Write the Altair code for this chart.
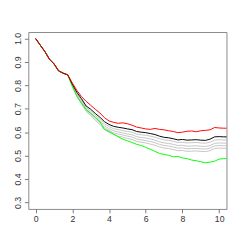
import altair as alt
import pandas as pd

# shared start of all curves, x = 0 .. 1.75 step 0.25
x_common = [0.0, 0.25, 0.5, 0.75, 1.0, 1.25, 1.5, 1.75]
y_common = [1.000, 0.972, 0.945, 0.912, 0.892, 0.862, 0.852, 0.845]

# x = 2.0 .. 10.5 step 0.25
x_tail = [2.0, 2.25, 2.5, 2.75, 3.0, 3.25, 3.5, 3.75, 4.0, 4.25, 4.5, 4.75,
          5.0, 5.25, 5.5, 5.75, 6.0, 6.25, 6.5, 6.75, 7.0, 7.25, 7.5, 7.75,
          8.0, 8.25, 8.5, 8.75, 9.0, 9.25, 9.5, 9.75, 10.0, 10.25, 10.5]

red = [0.810, 0.778, 0.752, 0.732, 0.715, 0.698, 0.682, 0.662, 0.648, 0.642, 0.638, 0.640,
       0.636, 0.630, 0.622, 0.618, 0.614, 0.612, 0.616, 0.612, 0.610, 0.606, 0.603, 0.598,
       0.600, 0.604, 0.605, 0.602, 0.606, 0.608, 0.610, 0.620, 0.618, 0.617, 0.617]
black = [0.805, 0.770, 0.743, 0.712, 0.698, 0.680, 0.664, 0.645, 0.633, 0.625, 0.621, 0.618,
         0.614, 0.611, 0.603, 0.600, 0.598, 0.594, 0.590, 0.583, 0.578, 0.576, 0.572, 0.567,
         0.569, 0.566, 0.567, 0.568, 0.566, 0.565, 0.570, 0.580, 0.581, 0.580, 0.580]
gray1 = [0.803, 0.765, 0.737, 0.705, 0.690, 0.672, 0.655, 0.636, 0.624, 0.615, 0.611, 0.607,
         0.603, 0.600, 0.592, 0.589, 0.587, 0.583, 0.579, 0.572, 0.567, 0.565, 0.561, 0.556,
         0.557, 0.554, 0.555, 0.556, 0.554, 0.553, 0.557, 0.566, 0.568, 0.567, 0.567]
gray2 = [0.801, 0.761, 0.731, 0.699, 0.683, 0.664, 0.647, 0.628, 0.615, 0.606, 0.601, 0.597,
         0.592, 0.589, 0.581, 0.577, 0.575, 0.571, 0.566, 0.559, 0.554, 0.552, 0.548, 0.543,
         0.544, 0.540, 0.541, 0.542, 0.540, 0.539, 0.543, 0.552, 0.554, 0.553, 0.553]
gray3 = [0.800, 0.758, 0.727, 0.694, 0.677, 0.657, 0.640, 0.620, 0.607, 0.597, 0.592, 0.588,
         0.583, 0.579, 0.571, 0.567, 0.564, 0.560, 0.555, 0.548, 0.543, 0.541, 0.537, 0.532,
         0.533, 0.529, 0.530, 0.531, 0.529, 0.528, 0.532, 0.541, 0.543, 0.542, 0.542]
gray4 = [0.798, 0.755, 0.722, 0.689, 0.671, 0.651, 0.633, 0.612, 0.599, 0.589, 0.583, 0.579,
         0.573, 0.569, 0.561, 0.557, 0.554, 0.549, 0.544, 0.537, 0.532, 0.530, 0.526, 0.521,
         0.522, 0.518, 0.519, 0.520, 0.518, 0.517, 0.521, 0.530, 0.532, 0.531, 0.531]
green = [0.795, 0.752, 0.723, 0.697, 0.680, 0.664, 0.645, 0.612, 0.603, 0.592, 0.580, 0.570,
         0.563, 0.556, 0.548, 0.543, 0.535, 0.527, 0.518, 0.509, 0.505, 0.501, 0.495, 0.496,
         0.490, 0.487, 0.481, 0.478, 0.474, 0.469, 0.472, 0.476, 0.485, 0.487, 0.487]

x_ticks = [0, 2, 4, 6, 8, 10]
y_ticks = [0.3, 0.4, 0.5, 0.6, 0.7, 0.8, 0.9, 1.0]

series = {"gray1": gray1, "gray2": gray2, "gray3": gray3, "gray4": gray4,
          "green": green, "black": black, "red": red}
colors = {"gray1": "#C4C4C4", "gray2": "#C4C4C4", "gray3": "#C4C4C4", "gray4": "#C4C4C4",
          "green": "#00FF00", "black": "#000000", "red": "#FF0000"}

rows = []
for name, vals in series.items():
    for xv, yv in zip(x_common + x_tail, y_common + vals):
        rows.append({"series": name, "x": xv, "y": yv})
df = pd.DataFrame(rows)

xs = alt.Scale(domain=[-0.4, 10.4], nice=False, zero=False)
ys = alt.Scale(domain=[0.272, 1.028], nice=False, zero=False)

xax = alt.Axis(values=x_ticks, title=None, grid=False, domain=False, tickSize=4,
               tickColor="#777", labelFontSize=9, labelColor="#333",
               labelFont="Liberation Sans", labelPadding=2, format="d")
yax = alt.Axis(values=y_ticks, title=None, grid=False, domain=False, tickSize=4,
               tickColor="#777", labelFontSize=9, labelColor="#333",
               labelFont="Liberation Sans", labelPadding=2, format=".1f",
               labelAngle=270, labelAlign="center", labelBaseline="bottom")

layers = []
for name in series:
    layers.append(
        alt.Chart(df).transform_filter(alt.datum.series == name)
        .mark_line(strokeWidth=1, clip=True, color=colors[name])
        .encode(x=alt.X("x:Q", scale=xs, axis=xax),
                y=alt.Y("y:Q", scale=ys, axis=yax))
    )

chart = alt.layer(*layers).properties(
    width=205, height=183,
    autosize=alt.AutoSizeParams(type="none"),
    padding={"left": 21, "top": 21, "right": 15, "bottom": 20},
).configure_view(stroke="#888", strokeWidth=1)

chart.save("out.html", embed_options={"renderer": "svg", "actions": False})
